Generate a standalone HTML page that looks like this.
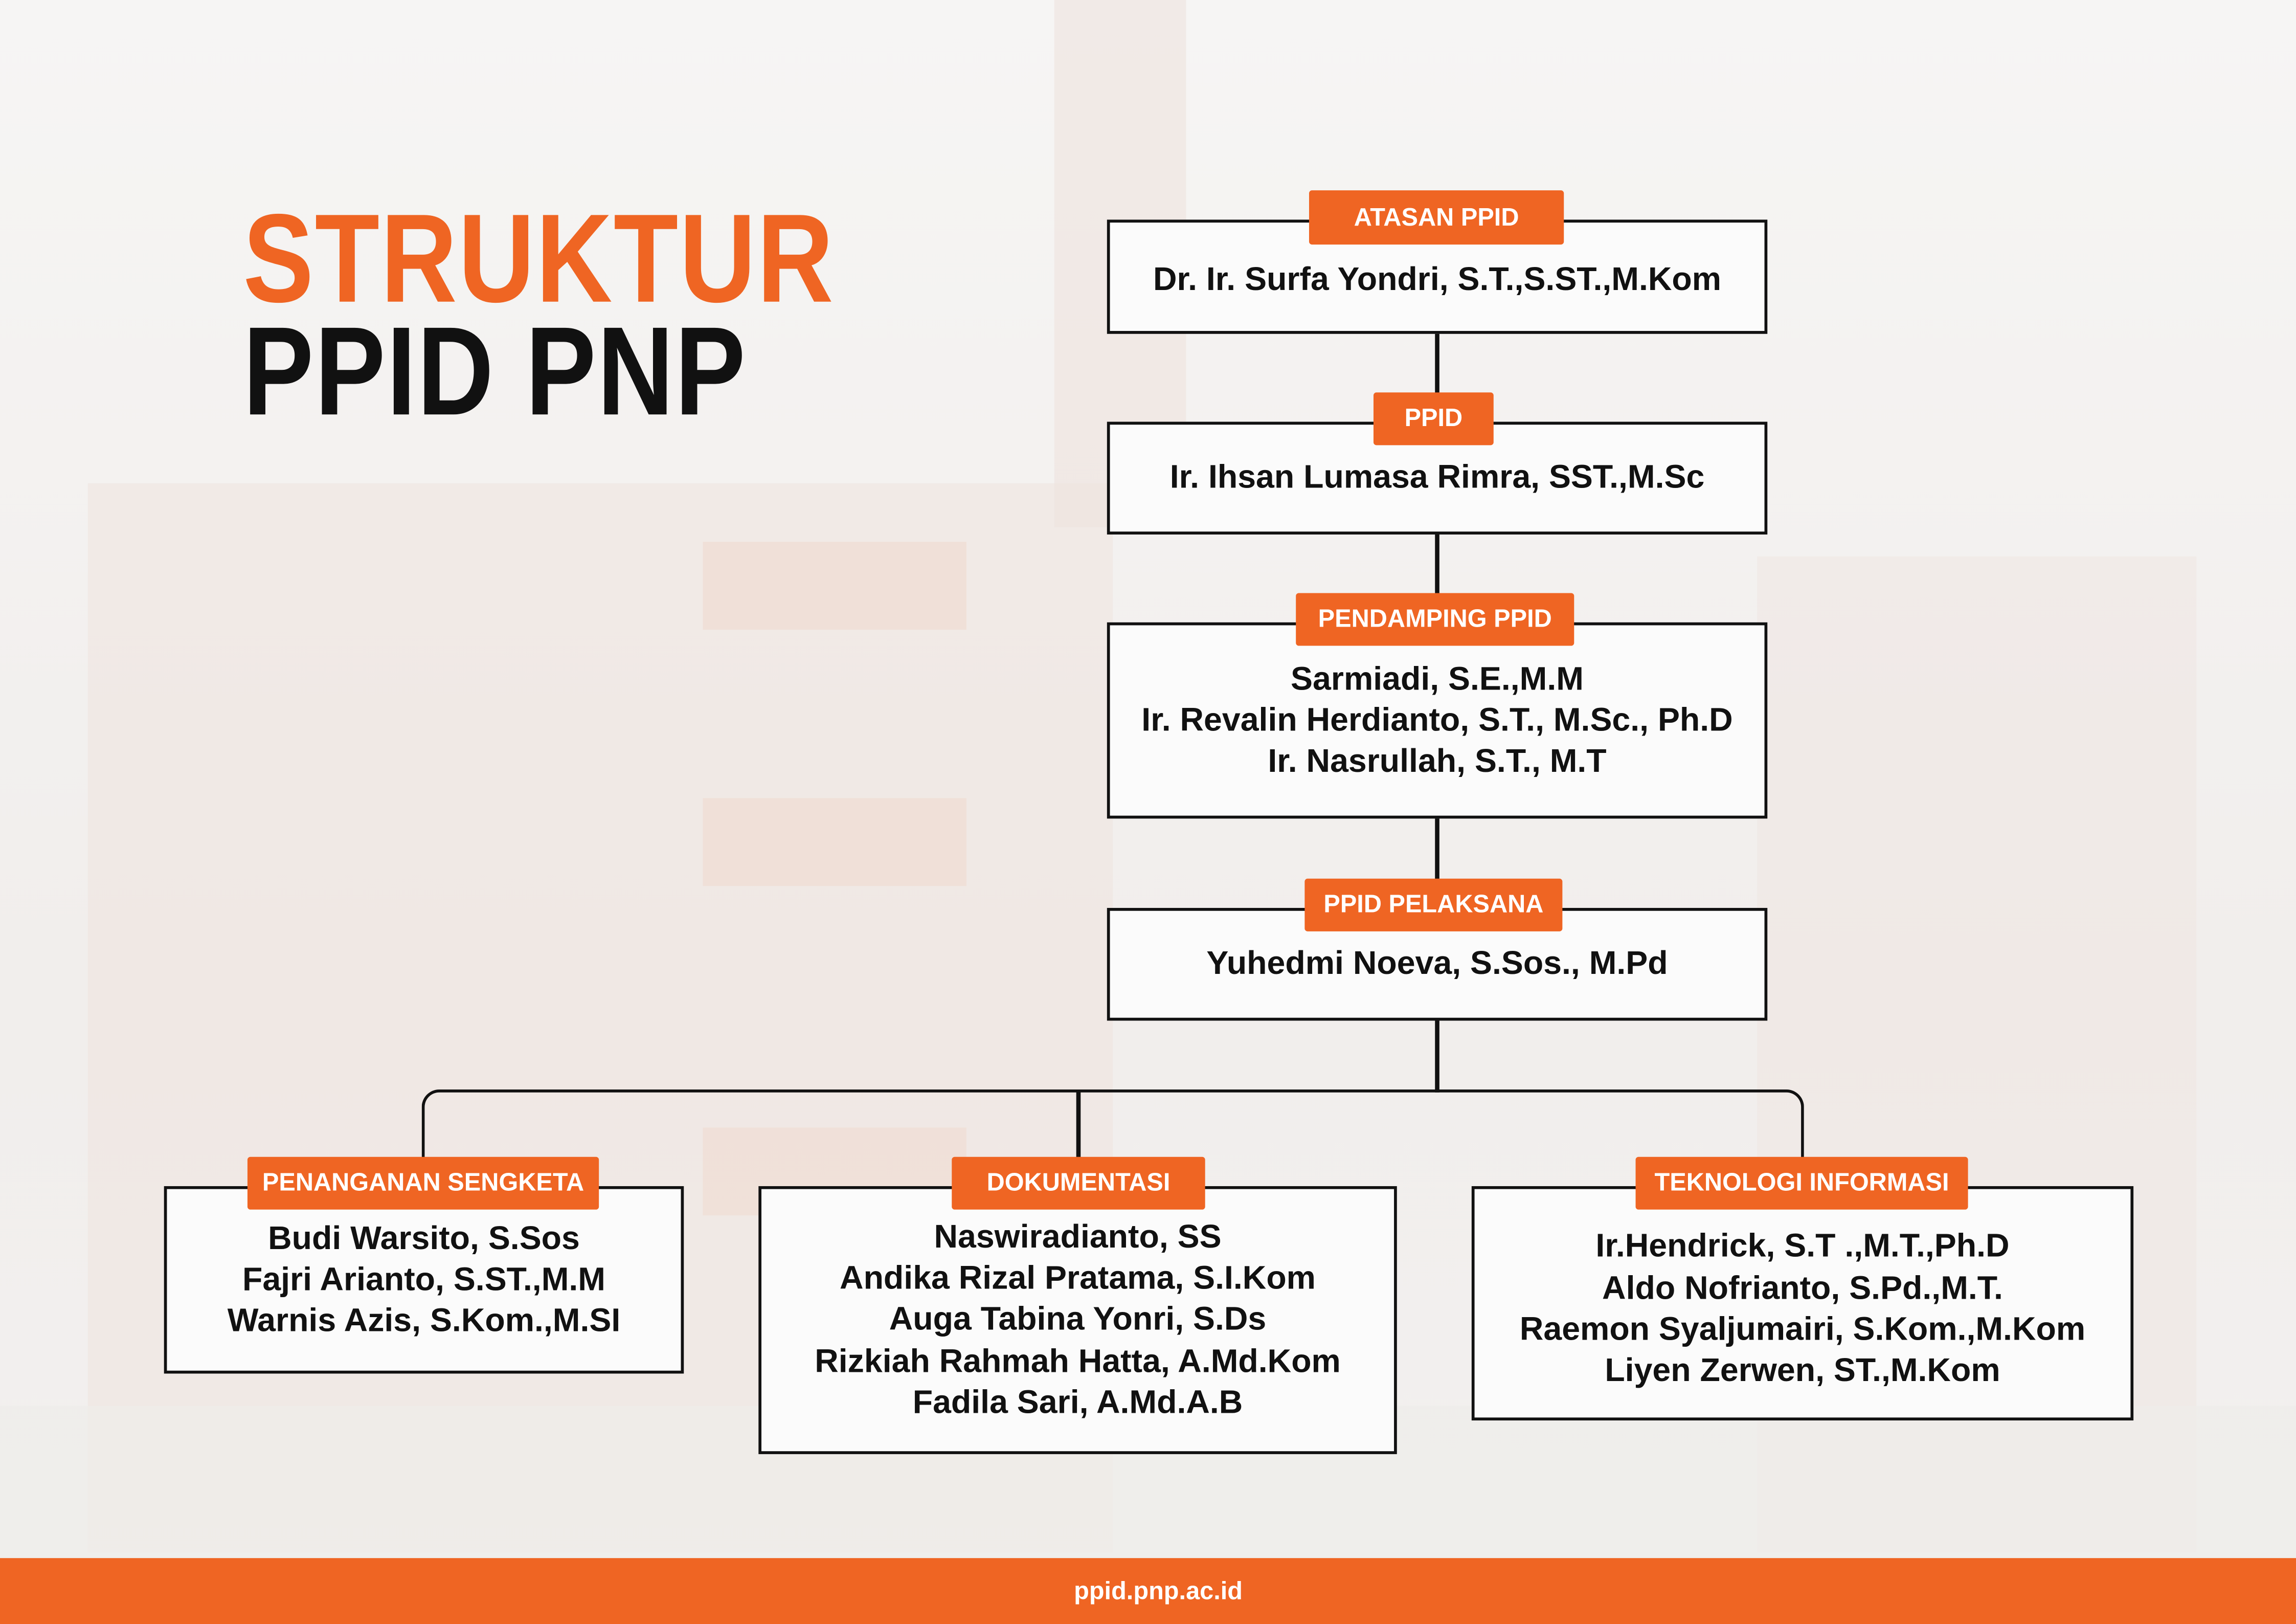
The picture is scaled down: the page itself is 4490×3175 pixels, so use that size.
<!DOCTYPE html>
<html><head><meta charset="utf-8">
<style>
html,body{margin:0;padding:0;}
body{width:4490px;height:3175px;overflow:hidden;background:#f3f1f0;}
#c{position:absolute;left:0;top:0;width:1568px;height:1109px;transform:scale(2.86352,2.86294);transform-origin:0 0;font-family:"Liberation Sans",sans-serif;overflow:hidden;
background:linear-gradient(180deg,#f6f5f4 0%,#f1eeec 60%,#f2f0ef 100%);}
.bg{position:absolute;}
.box{position:absolute;border:2.5px solid #111;background:#fbfbfb;box-sizing:border-box;display:flex;align-items:center;justify-content:center;text-align:center;font-weight:bold;font-size:22.5px;line-height:28.3px;color:#111;}
.tab{position:absolute;background:#ef6523;color:#fff;font-weight:bold;font-size:17px;display:flex;align-items:center;justify-content:center;border-radius:2px;}
.ln{position:absolute;background:#111;}
</style></head><body><div id="c">
<div class="bg" style="left:60px;top:330px;width:700px;height:730px;background:#efe4df;opacity:.55"></div>
<div class="bg" style="left:480px;top:370px;width:180px;height:60px;background:#f0d5c8;opacity:.45"></div>
<div class="bg" style="left:480px;top:545px;width:180px;height:60px;background:#f0d5c8;opacity:.45"></div>
<div class="bg" style="left:480px;top:770px;width:180px;height:60px;background:#f0d5c8;opacity:.4"></div>
<div class="bg" style="left:720px;top:0px;width:90px;height:360px;background:#efe3de;opacity:.6"></div>
<div class="bg" style="left:1200px;top:380px;width:300px;height:680px;background:#efe6e2;opacity:.55"></div>
<div class="bg" style="left:0;top:960px;width:1568px;height:104px;background:#eeede9;opacity:.7"></div>

<div style="position:absolute;left:166px;top:134px;font-weight:bold;font-size:86px;line-height:86px;color:#ef6523;transform:scaleX(0.84);transform-origin:0 0;letter-spacing:1px">STRUKTUR</div>
<div style="position:absolute;left:166px;top:211px;font-weight:bold;font-size:86px;line-height:86px;color:#111;transform:scaleX(0.84);transform-origin:0 0;letter-spacing:1px">PPID PNP</div>

<div class="ln" style="left:980px;top:226px;width:2.5px;height:520px"></div>
<div style="position:absolute;left:288px;top:744px;width:944px;height:70px;border:2.5px solid #111;border-bottom:none;border-radius:12px 12px 0 0;box-sizing:border-box"></div>
<div class="ln" style="left:735px;top:745px;width:2.5px;height:65px"></div>

<div class="box" style="left:756px;top:150px;width:451px;height:78px;padding-top:4px">Dr. Ir. Surfa Yondri, S.T.,S.ST.,M.Kom</div>
<div class="tab" style="left:894px;top:130px;width:174px;height:37px">ATASAN PPID</div>

<div class="box" style="left:756px;top:288px;width:451px;height:77px">Ir. Ihsan Lumasa Rimra, SST.,M.Sc</div>
<div class="tab" style="left:938px;top:268px;width:82px;height:36px">PPID</div>

<div class="box" style="left:756px;top:425px;width:451px;height:134px">Sarmiadi, S.E.,M.M<br>Ir. Revalin Herdianto, S.T., M.Sc., Ph.D<br>Ir. Nasrullah, S.T., M.T</div>
<div class="tab" style="left:885px;top:405px;width:190px;height:36px">PENDAMPING PPID</div>

<div class="box" style="left:756px;top:620px;width:451px;height:77px">Yuhedmi Noeva, S.Sos., M.Pd</div>
<div class="tab" style="left:891px;top:600px;width:176px;height:36px">PPID PELAKSANA</div>

<div class="box" style="left:112px;top:810px;width:355px;height:128px">Budi Warsito, S.Sos<br>Fajri Arianto, S.ST.,M.M<br>Warnis Azis, S.Kom.,M.SI</div>
<div class="tab" style="left:169px;top:790px;width:240px;height:36px">PENANGANAN SENGKETA</div>

<div class="box" style="left:518px;top:810px;width:436px;height:183px">Naswiradianto, SS<br>Andika Rizal Pratama, S.I.Kom<br>Auga Tabina Yonri, S.Ds<br>Rizkiah Rahmah Hatta, A.Md.Kom<br>Fadila Sari, A.Md.A.B</div>
<div class="tab" style="left:650px;top:790px;width:173px;height:36px">DOKUMENTASI</div>

<div class="box" style="left:1005px;top:810px;width:452px;height:160px;padding-top:8px">Ir.Hendrick, S.T .,M.T.,Ph.D<br>Aldo Nofrianto, S.Pd.,M.T.<br>Raemon Syaljumairi, S.Kom.,M.Kom<br>Liyen Zerwen, ST.,M.Kom</div>
<div class="tab" style="left:1117px;top:790px;width:227px;height:36px">TEKNOLOGI INFORMASI</div>

<div style="position:absolute;left:0;top:1064px;width:1568px;height:45px;background:#ef6523;color:#fff;font-weight:bold;font-size:17px;display:flex;align-items:center;justify-content:center;padding-left:14px;box-sizing:border-box">ppid.pnp.ac.id</div>
</div></body></html>
